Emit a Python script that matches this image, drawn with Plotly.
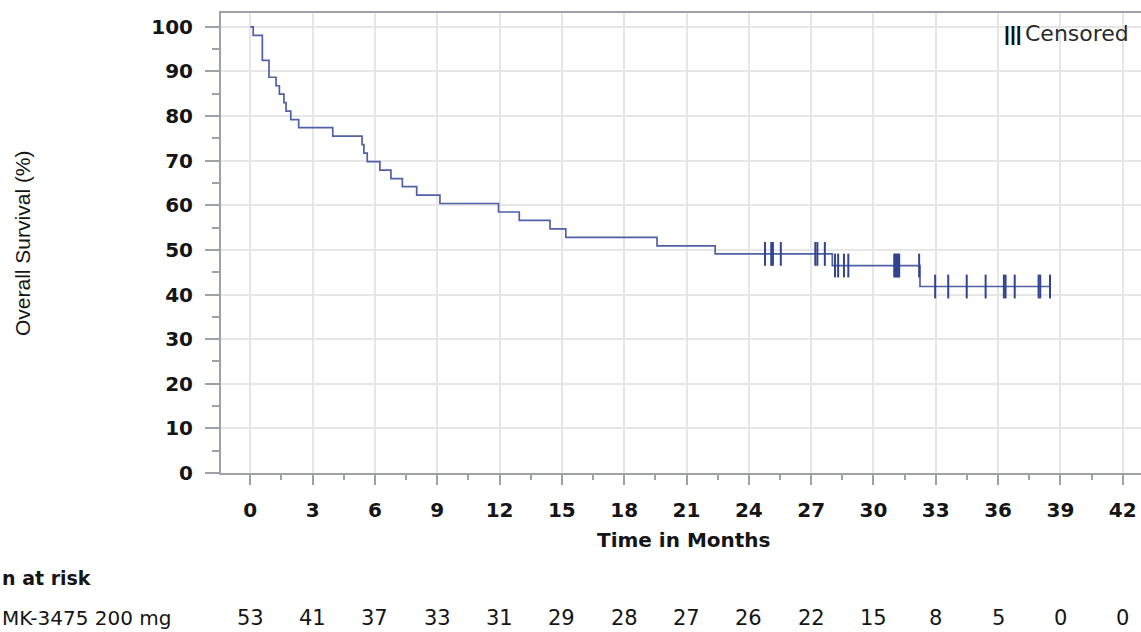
import plotly.graph_objects as go

# ---- data ----
step_times = [0, 0.14, 0.58, 0.90, 1.24, 1.40, 1.62, 1.72, 1.95, 2.33, 3.97, 5.38, 5.47, 5.63,
              6.24, 6.77, 7.32, 8.01, 9.13, 11.95, 12.95, 14.43, 15.19, 19.58, 22.38, 28.02, 32.24, 38.5]
step_surv = [100, 98.1, 92.5, 88.7, 86.8, 84.9, 83.0, 81.1, 79.2, 77.4, 75.5, 73.6, 71.7, 69.8,
             67.9, 66.0, 64.2, 62.3, 60.4, 58.5, 56.6, 54.7, 52.8, 50.9, 49.1, 46.5, 41.8, 41.8]

cens_times = [24.78, 25.08, 25.16, 25.54, 27.2, 27.3, 27.66,
              28.15, 28.3, 28.58, 28.79, 31.0, 31.06, 31.12, 31.18, 31.24, 32.2,
              32.97, 33.6, 34.49, 35.4, 36.28, 36.36, 36.8, 37.95, 38.03, 38.5]
cens_surv = [49.1] * 7 + [46.5] * 10 + [41.8] * 10

risk_times = [0, 3, 6, 9, 12, 15, 18, 21, 24, 27, 30, 33, 36, 39, 42]
risk_counts = [53, 41, 37, 33, 31, 29, 28, 27, 26, 22, 15, 8, 5, 0, 0]

x_ticks = list(range(0, 43, 3))
y_ticks = list(range(0, 101, 10))

LINE = "#5060a6"
MARK = "#33448f"
AXIS = "#9ea2a8"
GRID = "#e6e6e6"
TXT = "#151515"
FONT = "DejaVu Sans"

fig = go.Figure()
fig.add_trace(go.Scatter(x=step_times, y=step_surv, mode="lines", line_shape="hv",
                         line=dict(color=LINE, width=1.7), showlegend=False, hoverinfo="skip"))
fig.add_trace(go.Scatter(x=cens_times, y=cens_surv, mode="markers",
                         marker=dict(symbol="line-ns", size=17, line=dict(color=MARK, width=2)),
                         showlegend=False, hoverinfo="skip"))

W, H = 1141, 632
L, R, T, B = 221, 0, 13, 159
pw, ph = W - L - R, H - T - B

fig.update_layout(
    width=W, height=H,
    margin=dict(l=L, r=R, t=T, b=B, autoexpand=False),
    plot_bgcolor="white", paper_bgcolor="white",
    font=dict(family=FONT, size=20, color=TXT),
    hovermode=False,
)
fig.update_xaxes(
    automargin=False,
    range=[-1.41, 42.88], tickvals=x_ticks, ticktext=[f"<b>{v}</b>" for v in x_ticks],
    showgrid=True, gridcolor=GRID, gridwidth=1.5, zeroline=False,
    showline=True, linecolor=AXIS, linewidth=2, mirror=True,
    ticks="outside", ticklen=10, tickwidth=2, tickcolor=AXIS,
    tickfont=dict(family=FONT, size=20, color=TXT), ticklabelstandoff=8,
    minor=dict(tickvals=[v + 1.5 for v in x_ticks[:-1]], ticks="outside", ticklen=5,
               tickwidth=2, tickcolor=AXIS, showgrid=False),
)
fig.update_yaxes(
    automargin=False,
    range=[0, 103.1], tickvals=y_ticks, ticktext=[f"<b>{v}</b>" for v in y_ticks],
    showgrid=True, gridcolor=GRID, gridwidth=1.5, zeroline=False,
    showline=True, linecolor=AXIS, linewidth=2,
    ticks="outside", ticklen=14, tickwidth=2, tickcolor=AXIS,
    tickfont=dict(family=FONT, size=20, color=TXT), ticklabelstandoff=8,
    minor=dict(tickvals=[v + 5 for v in y_ticks[:-1]], ticks="outside", ticklen=7,
               tickwidth=2, tickcolor=AXIS, showgrid=False),
)

ann = []
# axis titles
ann.append(dict(text="<b>Time in Months</b>", xref="paper", yref="paper", x=(684 - L) / pw, y=0,
                yshift=-67, xanchor="center", yanchor="middle", showarrow=False,
                font=dict(family=FONT, size=20, color=TXT)))
ann.append(dict(text="Overall Survival (%)", xref="paper", yref="paper", x=(22 - L) / pw, y=0.5,
                textangle=-90, xanchor="center", yanchor="middle", showarrow=False,
                font=dict(family="Liberation Sans", size=21, color=TXT)))
# legend-like annotation
ann.append(dict(text="<b>|||</b>", xref="paper", yref="paper", x=(1002 - L) / pw, y=1,
                yshift=-20, xanchor="left", yanchor="middle", showarrow=False,
                font=dict(family="Liberation Sans", size=21, color="#111111")))
ann.append(dict(text="Censored", xref="paper", yref="paper", x=(1023 - L) / pw, y=1,
                yshift=-20, xanchor="left", yanchor="middle", showarrow=False,
                font=dict(family=FONT, size=22, color="#2a2a2a")))
# risk table
ann.append(dict(text="<b>n at risk</b>", xref="paper", yref="paper", x=-L / pw, y=0, yshift=-105,
                xanchor="left", yanchor="middle", showarrow=False,
                font=dict(family=FONT, size=19, color=TXT)))
ann.append(dict(text="MK-3475 200 mg", xref="paper", yref="paper", x=-L / pw, y=0, yshift=-145,
                xanchor="left", yanchor="middle", showarrow=False,
                font=dict(family=FONT, size=20, color=TXT)))
for t, n in zip(risk_times, risk_counts):
    ann.append(dict(text=str(n), xref="x", yref="paper", x=t, y=0, yshift=-145,
                    xanchor="center", yanchor="middle", showarrow=False,
                    font=dict(family=FONT, size=21, color=TXT)))
fig.update_layout(annotations=ann)

fig.write_html("out.html", config={"displayModeBar": False},
               post_script="document.body.style.margin='0';document.body.style.overflow='hidden';")
